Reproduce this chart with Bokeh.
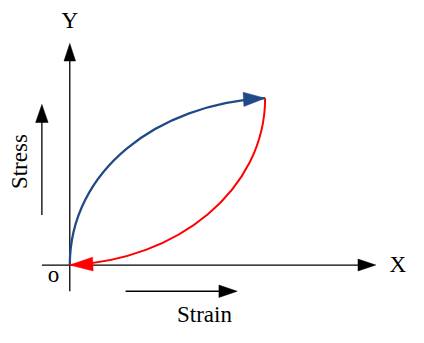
import numpy as np
from bokeh.plotting import figure
from bokeh.models import Range1d, ColumnDataSource
from bokeh.core.properties import value
from bokeh.embed import file_html
from bokeh.resources import INLINE

# ---- diagram values (data units: strain along x, stress along y) ----
# coordinate axes (origin O at 0,0)
axis_x_from, axis_x_to = -29.0, 318.0      # X axis drawn along stress = 0
axis_y_from, axis_y_to = -27.5, 232.5      # Y axis drawn along strain = 0

# loading / unloading loop
peak_strain, peak_stress = 203.0, 175.0
load_ctrl1 = (0.0, 99.0)
load_ctrl2 = (91.0, 169.0)
unload_ctrl1 = (203.0, 79.0)
unload_ctrl2 = (112.0, 5.0)

# direction indicator arrows
stress_arrow_x = -29.0
stress_arrow_y = (52.5, 168.5)
strain_arrow_y = -27.5
strain_arrow_x = (58.0, 174.0)

# labels
label_text = ["Y", "X", "o", "Strain"]
label_x = [0.0, 341.0, -17.0, 140.0]
label_y = [257.0, 1.0, -9.5, -52.0]
stress_label = "Stress"
stress_label_x, stress_label_y = -52.5, 108.5

blue = "#1F4A87"
red = "#FF0000"

p = figure(width=408, height=327, x_range=Range1d(-72, 352), y_range=Range1d(-65.5, 277.5),
           output_backend="svg", toolbar_location=None, x_axis_type=None, y_axis_type=None,
           min_border=0, outline_line_color=None, background_fill_color="white",
           border_fill_color="white")
p.grid.visible = False


def head(tip, frm, length, width):
    tx, ty = tip
    dx, dy = tx - frm[0], ty - frm[1]
    n = np.hypot(dx, dy)
    dx, dy = dx / n, dy / n
    bx, by = tx - length * dx, ty - length * dy
    nx, ny = -dy, dx
    return ([tx, bx + width / 2 * nx, bx - width / 2 * nx],
            [ty, by + width / 2 * ny, by - width / 2 * ny])


# axes lines
p.segment(x0=[axis_x_from, 0.0, stress_arrow_x, strain_arrow_x[0]],
          y0=[0.0, axis_y_from, stress_arrow_y[0], strain_arrow_y],
          x1=[axis_x_to - 10, 0.0, stress_arrow_x, strain_arrow_x[1] - 10],
          y1=[0.0, axis_y_to - 10, stress_arrow_y[1] - 10, strain_arrow_y],
          line_color="black", line_width=1.3)

# black arrowheads
heads = [head((axis_x_to, 0.0), (0.0, 0.0), 18.5, 12.5),
         head((0.0, axis_y_to), (0.0, 0.0), 18.5, 12.0),
         head((stress_arrow_x, stress_arrow_y[1]), (stress_arrow_x, stress_arrow_y[0]), 19.0, 13.0),
         head((strain_arrow_x[1], strain_arrow_y), (strain_arrow_x[0], strain_arrow_y), 19.0, 13.0)]
p.patches(xs=[h[0] for h in heads], ys=[h[1] for h in heads], fill_color="black",
          line_color="black", line_width=0.5)

# loading curve (blue) and unloading curve (red)
p.bezier(x0=[0.0], y0=[0.0], x1=[peak_strain], y1=[peak_stress],
         cx0=[load_ctrl1[0]], cy0=[load_ctrl1[1]], cx1=[load_ctrl2[0]], cy1=[load_ctrl2[1]],
         line_color=blue, line_width=2.3)
p.bezier(x0=[peak_strain], y0=[peak_stress], x1=[0.0], y1=[0.0],
         cx0=[unload_ctrl1[0]], cy0=[unload_ctrl1[1]], cx1=[unload_ctrl2[0]], cy1=[unload_ctrl2[1]],
         line_color=red, line_width=2.0)

bh = head((peak_strain, peak_stress), load_ctrl2, 22.5, 15.0)
p.patch(x=bh[0], y=bh[1], fill_color=blue, line_color=blue, line_width=0.5)
rh = head((0.0, 0.0), unload_ctrl2, 24.0, 14.5)
p.patch(x=rh[0], y=rh[1], fill_color=red, line_color=red, line_width=0.5)

# texts
src = ColumnDataSource(dict(x=label_x, y=label_y, t=label_text))
p.text(x="x", y="y", text="t", source=src, text_font=value("Liberation Serif"),
       text_font_size="23px", text_align="center", text_baseline="alphabetic", text_color="black")
p.text(x=[stress_label_x], y=[stress_label_y], text=[stress_label], angle=np.pi / 2,
       text_font=value("Liberation Serif"), text_font_size="23px", text_align="center",
       text_baseline="alphabetic", text_color="black")

open("out.html", "w").write(file_html(p, INLINE))
